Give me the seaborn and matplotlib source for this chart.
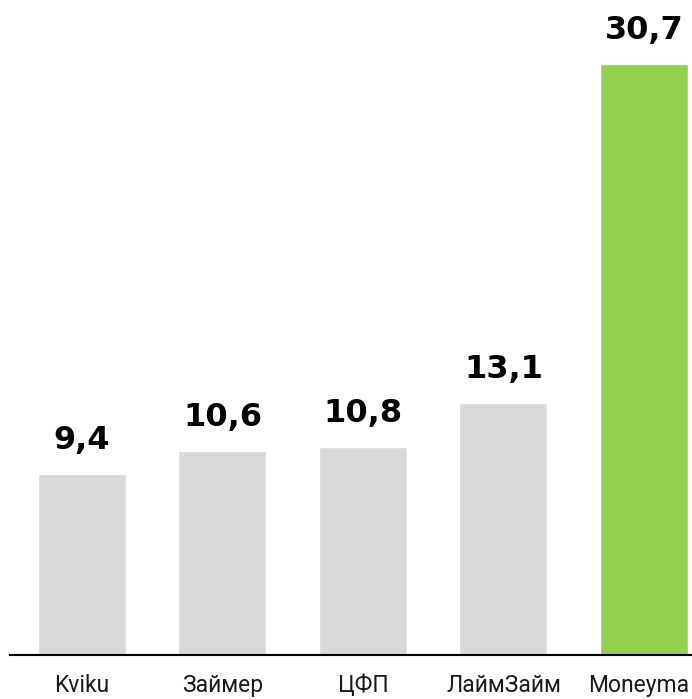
import matplotlib
matplotlib.use("Agg")
import matplotlib.pyplot as plt
import matplotlib.transforms as mtransforms
import pandas as pd
import seaborn as sns

# values
companies = ["Kviku", "Займер", "ЦФП", "ЛаймЗайм", "Moneyma"]
values = [9.4, 10.6, 10.8, 13.1, 30.7]
bar_colors = ["#d9d9d9", "#d9d9d9", "#d9d9d9", "#d9d9d9", "#92d050"]

df = pd.DataFrame({"company": companies, "value": values})

sns.set_style("white")
plt.rcParams["font.family"] = ["Roboto", "DejaVu Sans"]

fig = plt.figure(figsize=(6.92, 6.99), dpi=100)
ax = fig.add_axes([10 / 692, 44 / 699, 1 - 10 / 692, 655 / 699])

sns.barplot(data=df, x="company", y="value", hue="company",
            palette=bar_colors, legend=False, width=0.626,
            saturation=1, ax=ax)

ax.set_xlim(-0.512, 4.342)
ax.set_ylim(0, 34.03)

# value labels above bars, comma as decimal separator
for i, v in enumerate(values):
    ax.annotate(f"{v:.1f}".replace(".", ","), xy=(i, v), xytext=(0, 18),
                textcoords="offset points", ha="center", va="baseline",
                fontsize=23, fontweight="heavy", family="DejaVu Sans",
                color="black")

for side in ["top", "right", "left"]:
    ax.spines[side].set_visible(False)
ax.spines["bottom"].set_color("black")
ax.spines["bottom"].set_linewidth(1.5)

ax.set_yticks([])
ax.set_xlabel("")
ax.set_ylabel("")
ax.tick_params(axis="x", length=0, pad=14, labelsize=16.5, labelcolor="#1a1a1a")

# last label sits a little left so it stays inside the picture
last = ax.get_xticklabels()[-1]
last.set_transform(last.get_transform() +
                   mtransforms.ScaledTranslation(-0.055, 0, fig.dpi_scale_trans))

fig.savefig("out.png", dpi=100)
